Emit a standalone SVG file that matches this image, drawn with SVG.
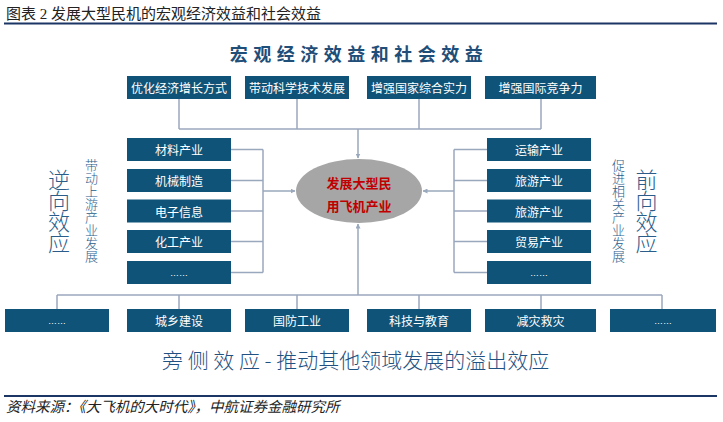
<svg xmlns="http://www.w3.org/2000/svg" width="723" height="422" viewBox="0 0 723 422">
<defs>
<style>
.box{fill:#0f5378;}
.bt{fill:#ffffff;font-family:"Noto Sans CJK SC",sans-serif;font-size:12px;text-anchor:middle;dominant-baseline:central;}
.dots{fill:#ffffff;font-family:"Liberation Sans",sans-serif;font-size:9px;text-anchor:middle;dominant-baseline:central;}
.ln{fill:none;stroke:#9aa8bd;stroke-width:1.5;}
.vt{fill:#2a5d8a;font-family:"Noto Sans CJK SC",sans-serif;writing-mode:vertical-rl;text-anchor:start;font-weight:300;}
</style>
<marker id="ah" viewBox="0 0 10 10" refX="9" refY="5" markerWidth="5" markerHeight="5" orient="auto" markerUnits="userSpaceOnUse">
<path d="M0,0 L10,5 L0,10 z" fill="#9aa8bd"/>
</marker>
</defs>
<rect width="723" height="422" fill="#ffffff"/>

<g id="title">
<text x="6" y="19" font-family="'Liberation Serif','Noto Sans CJK SC',serif" font-size="15" fill="#222">图表 2 发展大型民机的宏观经济效益和社会效益</text>
<line x1="4" y1="23.5" x2="717" y2="23.5" stroke="#1b3564" stroke-width="2"/>
</g>

<g id="heading">
<text x="359" y="53" font-family="'Noto Sans CJK SC',sans-serif" font-size="18" font-weight="bold" fill="#1f4e79" text-anchor="middle" dominant-baseline="central" letter-spacing="5.5">宏观经济效益和社会效益</text>
</g>

<g id="connectors">
<path class="ln" d="M179,99 V129 M297,99 V129 M419,99 V129 M541,99 V129 M179,129 H541"/>
<path class="ln" d="M358,129 V158" marker-end="url(#ah)"/>
<path class="ln" d="M231,149.5 H263 M231,180.5 H263 M231,211 H263 M231,241.5 H263 M231,272.5 H263 M263,149.5 V272.5"/>
<path class="ln" d="M263,191 H295" marker-end="url(#ah)"/>
<path class="ln" d="M487,149.5 H454 M487,180.5 H454 M487,211 H454 M487,241.5 H454 M487,272.5 H454 M454,149.5 V272.5"/>
<path class="ln" d="M454,191 H423" marker-end="url(#ah)"/>
<path class="ln" d="M358,295 V224" marker-end="url(#ah)"/>
<path class="ln" d="M57,295 H662 M57,295 V309 M179,295 V309 M297,295 V309 M419,295 V309 M541,295 V309 M662,295 V309"/>
</g>

<g id="center">
<ellipse cx="359" cy="191" rx="63" ry="32" fill="#a6a6a6"/>
<text x="359" y="182" font-family="'Noto Sans CJK SC',sans-serif" font-size="13" font-weight="bold" fill="#c00000" text-anchor="middle" dominant-baseline="central">发展大型民</text>
<text x="359" y="205" font-family="'Noto Sans CJK SC',sans-serif" font-size="13" font-weight="bold" fill="#c00000" text-anchor="middle" dominant-baseline="central">用飞机产业</text>
</g>

<g id="top1"><rect class="box" x="127" y="76" width="104" height="23"/><text class="bt" x="179" y="87.5">优化经济增长方式</text></g>
<g id="top2"><rect class="box" x="245" y="76" width="104" height="23"/><text class="bt" x="297" y="87.5">带动科学技术发展</text></g>
<g id="top3"><rect class="box" x="367" y="76" width="104" height="23"/><text class="bt" x="419" y="87.5">增强国家综合实力</text></g>
<g id="top4"><rect class="box" x="485" y="76" width="111" height="23"/><text class="bt" x="540.5" y="87.5">增强国际竞争力</text></g>

<g id="left1"><rect class="box" x="127" y="138" width="104" height="23"/><text class="bt" x="179" y="149.5">材料产业</text></g>
<g id="left2"><rect class="box" x="127" y="169" width="104" height="23"/><text class="bt" x="179" y="180.5">机械制造</text></g>
<g id="left3"><rect class="box" x="127" y="199.5" width="104" height="23"/><text class="bt" x="179" y="211">电子信息</text></g>
<g id="left4"><rect class="box" x="127" y="230" width="104" height="23"/><text class="bt" x="179" y="241.5">化工产业</text></g>
<g id="left5"><rect class="box" x="127" y="261" width="104" height="23"/><text class="dots" x="179" y="272.5">……</text></g>

<g id="right1"><rect class="box" x="487" y="138" width="104" height="23"/><text class="bt" x="539" y="149.5">运输产业</text></g>
<g id="right2"><rect class="box" x="487" y="169" width="104" height="23"/><text class="bt" x="539" y="180.5">旅游产业</text></g>
<g id="right3"><rect class="box" x="487" y="199.5" width="104" height="23"/><text class="bt" x="539" y="211">旅游产业</text></g>
<g id="right4"><rect class="box" x="487" y="230" width="104" height="23"/><text class="bt" x="539" y="241.5">贸易产业</text></g>
<g id="right5"><rect class="box" x="487" y="261" width="104" height="23"/><text class="dots" x="539" y="272.5">……</text></g>

<g id="bottom1"><rect class="box" x="5" y="309" width="104" height="23"/><text class="dots" x="57" y="320.5">……</text></g>
<g id="bottom2"><rect class="box" x="127" y="309" width="104" height="23"/><text class="bt" x="179" y="320.5">城乡建设</text></g>
<g id="bottom3"><rect class="box" x="245" y="309" width="104" height="23"/><text class="bt" x="297" y="320.5">国防工业</text></g>
<g id="bottom4"><rect class="box" x="367" y="309" width="104" height="23"/><text class="bt" x="419" y="320.5">科技与教育</text></g>
<g id="bottom5"><rect class="box" x="485" y="309" width="111" height="23"/><text class="bt" x="540.5" y="320.5">减灾救灾</text></g>
<g id="bottom6"><rect class="box" x="610" y="309" width="106" height="23"/><text class="dots" x="663" y="320.5">……</text></g>

<g id="left-labels">
<text class="vt" x="59" y="169" font-size="22" letter-spacing="-1">逆向效应</text>
<text class="vt" x="91.5" y="159" font-size="13">带动上游产业发展</text>
</g>
<g id="right-labels">
<text class="vt" x="618.5" y="159" font-size="13">促进相关产业发展</text>
<text class="vt" x="646.5" y="169" font-size="22" letter-spacing="-1">前向效应</text>
</g>

<g id="side-effect">
<text x="162" y="359" font-family="'Noto Sans CJK SC',sans-serif" font-size="21" fill="#1f5282" font-weight="300" dominant-baseline="central">旁 侧 效 应 - 推动其他领域发展的溢出效应</text>
</g>

<g id="source">
<line x1="4" y1="396" x2="717" y2="396" stroke="#1b3564" stroke-width="2"/>
<text x="6" y="412" font-family="'Liberation Serif','Noto Sans CJK SC',serif" font-size="14.5" font-style="italic" fill="#222">资料来源：《大飞机的大时代》，中航证券金融研究所</text>
</g>
</svg>
